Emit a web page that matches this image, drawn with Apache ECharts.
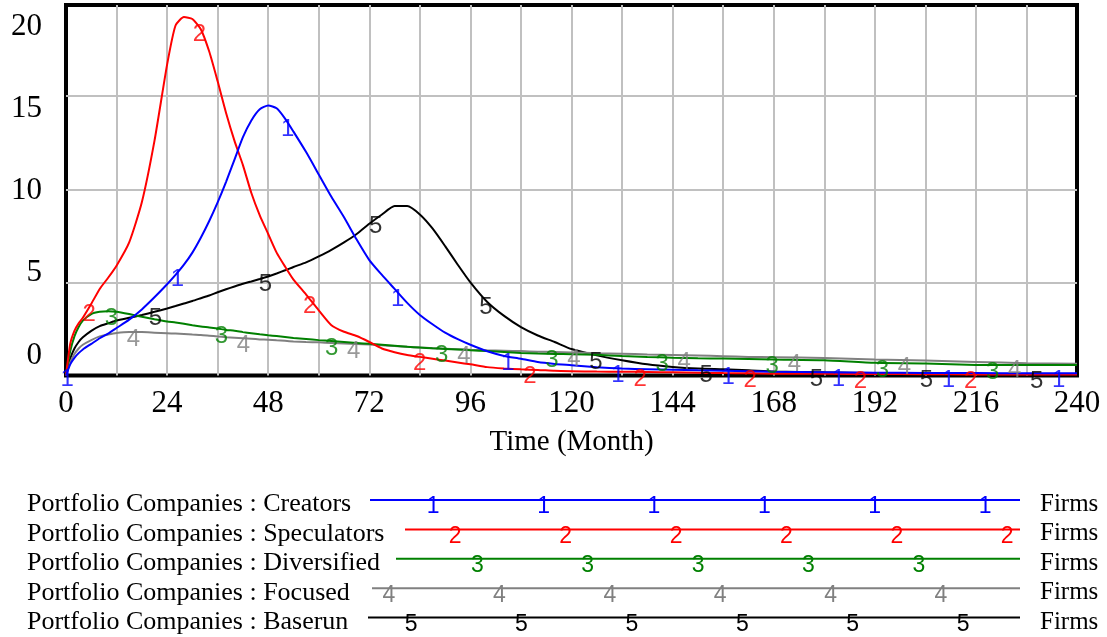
<!DOCTYPE html>
<html>
<head>
<meta charset="utf-8">
<script src="https://cdn.jsdelivr.net/npm/echarts@6/dist/echarts.min.js"></script>
<style>
html,body{margin:0;padding:0;background:#ffffff;}
#chart{width:1107px;height:637px;}
</style>
</head>
<body>
<div id="chart"></div>
<script>
// ---------------- data ----------------
const months = [0,1,2,3,4,6,8,10,12,15,18,21,24,26,28,30,32,34,36,38,40,42,44,46,48,50,52,54,57,60,63,66,69,72,75,78,81,84,87,90,93,96,100,104,108,112,116,120,126,132,138,144,150,156,162,168,180,192,204,216,228,240];

const creators = [0,0.6,0.95,1.2,1.4, 1.7,2.0,2.25,2.55, 3.0,3.55,4.2,
  4.9,5.4,5.95,6.6,7.4,8.3,9.3,10.4,11.6,12.8,13.7,14.3,14.5,14.35,13.8,13.1,
  12.0,10.8,9.6,8.5,7.3,6.2,5.4,4.65,3.9,3.25,2.75,2.3,1.95,1.65,
  1.3,1.05,0.9,0.72,0.62,0.55, 0.44,0.37,0.34,0.31,0.28,0.26,0.23,0.2,
  0.17,0.15,0.14,0.13,0.12,0.12];

const speculators = [0,1.7,2.4,2.8,3.1, 3.85,4.65,5.25,5.9, 7.15,9.3,12.6,
  16.7,18.8,19.25,19.15,18.6,17.4,15.8,14.1,12.6,11.3,9.8,8.6,7.6,6.6,5.85,5.15,
  4.35,3.5,2.7,2.35,2.12,1.8,1.45,1.25,1.1,1.0,0.9,0.8,0.7,0.6,
  0.45,0.38,0.33,0.3,0.25,0.23, 0.21,0.2,0.19,0.17,0.15,0.13,0.12,0.1,
  0.09,0.08,0.07,0.06,0.06,0.05];

const diversified = [0,1.3,2.1,2.6,2.95, 3.3,3.42,3.45,3.43, 3.3,3.15,3.02,
  2.9,2.85,2.78,2.7,2.63,2.58,2.52,2.45,2.4,2.33,2.27,2.21,2.16,2.12,2.07,2.02,
  1.96,1.9,1.85,1.8,1.75,1.7,1.65,1.6,1.54,1.5,1.46,1.43,1.4,1.36,
  1.31,1.26,1.21,1.18,1.16,1.14, 1.11,1.05,1.0,0.96,0.93,0.91,0.89,0.86,
  0.82,0.68,0.65,0.57,0.56,0.56];

const focused = [0,0.7,1.15,1.45,1.65, 1.9,2.1,2.2,2.28, 2.33,2.33,2.3,
  2.27,2.25,2.23,2.2,2.18,2.14,2.1,2.06,2.03,2.0,1.97,1.94,1.92,1.89,1.86,1.83,
  1.8,1.78,1.75,1.72,1.69,1.66,1.62,1.58,1.54,1.5,1.47,1.44,1.41,1.38,
  1.35,1.33,1.31,1.28,1.26,1.24, 1.2,1.17,1.13,1.1,1.07,1.04,1.0,0.98,
  0.94,0.86,0.8,0.73,0.66,0.63];

const baserun = [0,0.9,1.45,1.8,2.05, 2.4,2.65,2.8,2.95, 3.1,3.25,3.42,
  3.6,3.73,3.87,4.0,4.15,4.3,4.47,4.63,4.78,4.93,5.05,5.18,5.32,5.48,5.65,5.83,
  6.08,6.4,6.75,7.15,7.6,8.15,8.65,9.1,9.1,8.65,7.9,6.95,5.95,5.0,
  3.95,3.2,2.6,2.15,1.8,1.42, 1.08,0.82,0.6,0.46,0.37,0.33,0.28,0.22,
  0.17,0.13,0.1,0.08,0.07,0.06];

const seriesNames = [
  'Portfolio Companies : Creators',
  'Portfolio Companies : Speculators',
  'Portfolio Companies : Diversified',
  'Portfolio Companies : Focused',
  'Portfolio Companies : Baserun'
];
const seriesDigits = ['1','2','3','4','5'];
const unitLabel = 'Firms';
const xAxisTitle = 'Time (Month)';
const yTickLabels = [0,5,10,15,20];
const xTickLabels = [0,24,48,72,96,120,144,168,192,216,240];

// ---------------- styling / layout ----------------
const colors = ['#0000ff','#ff0000','#008000','#808080','#000000'];
const SERIF = '"Liberation Serif","Times New Roman",Times,serif';
const SANS = '"Liberation Sans",Arial,Helvetica,sans-serif';
const valueSets = [creators, speculators, diversified, focused, baserun];

function interp(vals, m) {
  for (let j = 0; j < months.length - 1; j++) {
    if (m >= months[j] && m <= months[j+1]) {
      const t = (m - months[j]) / (months[j+1] - months[j]);
      return vals[j] + t * (vals[j+1] - vals[j]);
    }
  }
  return vals[vals.length - 1];
}

// marker digits cycle along the time axis like the simulation tool does
const markerStart = 0.3, markerStep = 5.23;
const markerData = valueSets.map(() => []);
for (let i = 0; ; i++) {
  const m = markerStart + markerStep * i;
  if (m > 240) break;
  const k = i % 5;
  markerData[k].push([m, interp(valueSets[k], m)]);
}

const series = [];
valueSets.forEach((vals, k) => {
  series.push({
    type: 'line',
    name: seriesNames[k],
    data: months.map((m, j) => [m, vals[j]]),
    showSymbol: false,
    symbol: 'none',
    smooth: 0.2,
    lineStyle: { color: colors[k], width: 2 },
    itemStyle: { color: colors[k] },
    z: 10 - k,
    silent: true,
    animation: false
  });
});
valueSets.forEach((vals, k) => {
  series.push({
    type: 'scatter',
    data: markerData[k],
    symbol: 'circle',
    symbolSize: 0.1,
    itemStyle: { color: 'rgba(0,0,0,0)' },
    clip: false,
    label: {
      show: true,
      position: 'inside',
      formatter: seriesDigits[k],
      color: colors[k],
      fontSize: 24,
      fontFamily: SANS,
      offset: [0, 7]
    },
    z: 20,
    silent: true,
    animation: false
  });
});

// legend built with graphic elements (Vensim-style)
const legendLeft = 27;
const legendRowY = [500, 529.4, 558.8, 588.2, 617.6];
const legendLineStart = [370, 405, 396, 372, 368];
const legendLineEnd = 1020;
const legendUnitX = 1040;
const legendMarkBase = 389, legendMarkStep = 22.08;
const legendOrder = [3, 4, 0, 1, 2];
const graphic = [];
for (let k = 0; k < 5; k++) {
  const y = legendRowY[k];
  graphic.push({
    type: 'text', x: legendLeft, y: y + 4.5, silent: true,
    style: { text: seriesNames[k], font: '26px ' + SERIF, fill: '#000', align: 'left', verticalAlign: 'middle' }
  });
  graphic.push({
    type: 'line', silent: true,
    shape: { x1: legendLineStart[k], y1: y, x2: legendLineEnd, y2: y },
    style: { stroke: colors[k], lineWidth: 2 }
  });
  graphic.push({
    type: 'text', x: legendUnitX, y: y + 4.5, silent: true,
    style: { text: unitLabel, font: '25px ' + SERIF, fill: '#000', align: 'left', verticalAlign: 'middle' }
  });
}
for (let i = 0; i < 40; i++) {
  const x = legendMarkBase + legendMarkStep * i;
  const k = legendOrder[i % 5];
  if (x < legendLineStart[k] || x > legendLineEnd) continue;
  graphic.push({
    type: 'text', x: x, y: legendRowY[k] + 7, silent: true, z: 100,
    style: { text: seriesDigits[k], font: '23px ' + SANS, fill: colors[k], align: 'center', verticalAlign: 'middle' }
  });
}

const option = {
  backgroundColor: '#ffffff',
  animation: false,
  grid: {
    left: 66, top: 5, width: 1011, height: 370.5,
    show: true, borderColor: '#000000', borderWidth: 4, backgroundColor: 'transparent'
  },
  xAxis: {
    type: 'value', min: 0, max: 240, interval: 12,
    name: xAxisTitle, nameLocation: 'middle', nameGap: 52,
    nameTextStyle: { fontSize: 29, fontFamily: SERIF, color: '#000' },
    axisLine: { show: false }, axisTick: { show: false },
    axisLabel: {
      fontSize: 31, fontFamily: SERIF, color: '#000', margin: 13,
      formatter: v => (xTickLabels.indexOf(v) >= 0 ? String(v) : '')
    },
    splitLine: { show: true, showMinLine: false, showMaxLine: false, lineStyle: { color: '#c0c0c0', width: 2 } }
  },
  yAxis: [
    {
      type: 'value', min: 0, max: 19.9, interval: 5,
      axisLine: { show: false }, axisTick: { show: false }, axisLabel: { show: false },
      splitLine: { show: true, showMinLine: false, showMaxLine: false, lineStyle: { color: '#c0c0c0', width: 2 } }
    },
    {
      type: 'value', min: -1.216, max: 21.307, position: 'left',
      axisLine: { show: false }, axisTick: { show: false }, splitLine: { show: false },
      axisLabel: {
        customValues: yTickLabels,
        fontSize: 31, fontFamily: SERIF, color: '#000', margin: 24,
        formatter: v => (yTickLabels.indexOf(v) >= 0 ? String(v) : '')
      }
    }
  ],
  series: series,
  graphic: graphic
};

const chart = echarts.init(document.getElementById('chart'), null, { renderer: 'canvas' });
chart.setOption(option);
</script>
</body>
</html>
